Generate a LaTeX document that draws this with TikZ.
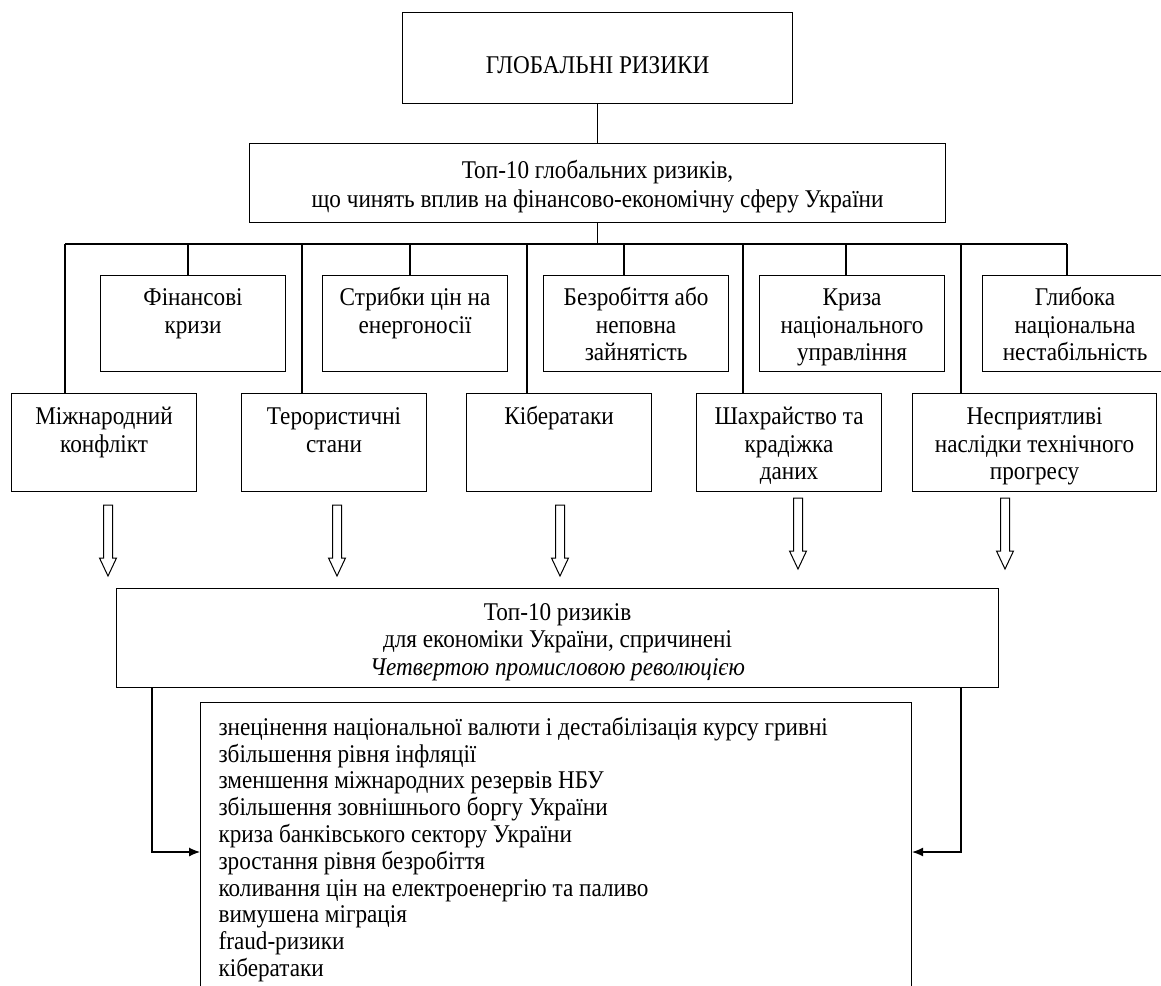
\documentclass[tikz,border=0pt]{standalone}
\usepackage{fontspec}
\setmainfont{Liberation Serif}[FakeStretch=0.91]
\usetikzlibrary{arrows.meta}
\newcommand\tstrut{\rule{0pt}{27.5pt}}
\begin{document}
\begin{tikzpicture}[x=1pt,y=-1pt,line width=1.1pt,
  box/.style={draw,anchor=north west,inner sep=0pt,align=center,
    font=\fontsize{25.5}{27.5}\selectfont},
  upbox/.style={box,minimum width=185pt,minimum height=96pt},
  lowbox/.style={box,minimum width=185pt,minimum height=98pt},
  conn/.style={line width=1.1pt},
  hollowarrow/.pic={\draw[line width=1pt] (-4.5,0) -- (4.5,0) -- (4.5,53) -- (8.5,53) -- (0,71) -- (-8.5,53) -- (-4.5,53) -- cycle;}
]
\useasboundingbox (0,0) rectangle (1161,985);
% top
\node[box,minimum width=390pt,minimum height=91pt] (t0) at (402,12) {\raisebox{-7pt}[\height][\depth]{ГЛОБАЛЬНІ РИЗИКИ}};
\node[box,minimum width=696pt,minimum height=79pt,font=\fontsize{25.5}{29}\selectfont] (t1) at (249,143) {\rule{0pt}{28.5pt}Топ-10 глобальних ризиків,\\що чинять вплив на фінансово-економічну сферу України\strut};
\draw[conn] (t0.south) -- (t1.north);
\coordinate (busL) at (65,244);
\coordinate (busR) at (1067,244);
\draw[conn] (t1.south) -- (t1.south |- busL);
\draw[conn] (busL) -- (busR);
% upper row
\node[upbox] (u1) at (100,275) {\tstrut Фінансові\\кризи\\\strut};
\node[upbox] (u2) at (322,275) {\tstrut Стрибки цін на\\енергоносії\\\strut};
\node[upbox] (u3) at (543,275) {\tstrut Безробіття або\\неповна\\зайнятість\strut};
\node[upbox] (u4) at (759,275) {\tstrut Криза\\національного\\управління\strut};
\node[upbox] (u5) at (982,275) {\tstrut Глибока\\національна\\нестабільність\strut};
% lower row
\node[lowbox] (l1) at (11,393) {\tstrut Міжнародний\\конфлікт\\\strut};
\node[lowbox] (l2) at (241,393) {\tstrut Терористичні\\стани\\\strut};
\node[lowbox] (l3) at (466,393) {\tstrut Кібератаки\\\strut\\\strut};
\node[lowbox] (l4) at (696,393) {\tstrut Шахрайство та\\крадіжка\\даних\strut};
\node[lowbox,minimum width=244pt] (l5) at (912,393) {\tstrut Несприятливі\\наслідки технічного\\прогресу\strut};
% bus connectors
\foreach \x/\n in {188/u1,410/u2,624/u3,846/u4,1067/u5}{
  \coordinate (b\n) at (\x,244);
  \draw[conn] (b\n) -- (b\n |- \n.north);
}
\foreach \x/\n in {65/l1,302/l2,527/l3,743/l4,961/l5}{
  \coordinate (b\n) at (\x,244);
  \draw[conn] (b\n) -- (b\n |- \n.north);
}
% hollow arrows
\pic at (108,505) {hollowarrow};
\pic at (337,505) {hollowarrow};
\pic at (560,505) {hollowarrow};
\pic at (798,498) {hollowarrow};
\pic at (1005,498) {hollowarrow};
% big box
\node[box,minimum width=882pt,minimum height=99pt] (big) at (116,588) {\tstrut Топ-10 ризиків\\для економіки України, спричинені\\\textit{Четвертою промисловою революцією}\strut};
% list box
\node[draw,anchor=north west,inner sep=0pt,minimum width=711pt,minimum height=330pt] (list) at (200,702) {};
\node[anchor=north west,inner sep=0pt,align=left,font=\fontsize{25.5}{26.8}\selectfont] (listtxt) at (218,716) {\strut знецінення національної валюти і дестабілізація курсу гривні\\збільшення рівня інфляції\\зменшення міжнародних резервів НБУ\\збільшення зовнішнього боргу України\\криза банківського сектору України\\зростання рівня безробіття\\коливання цін на електроенергію та паливо\\вимушена міграція\\fraud-ризики\\кібератаки};
\coordinate (lj) at (152,852);
\coordinate (rj) at (961,852);
\draw[conn,-{Latex[length=11pt,width=9pt]}] (lj |- big.south) |- (list.west |- lj);
\draw[conn,-{Latex[length=11pt,width=9pt]}] (rj |- big.south) |- (list.east |- lj);
\end{tikzpicture}
\end{document}
